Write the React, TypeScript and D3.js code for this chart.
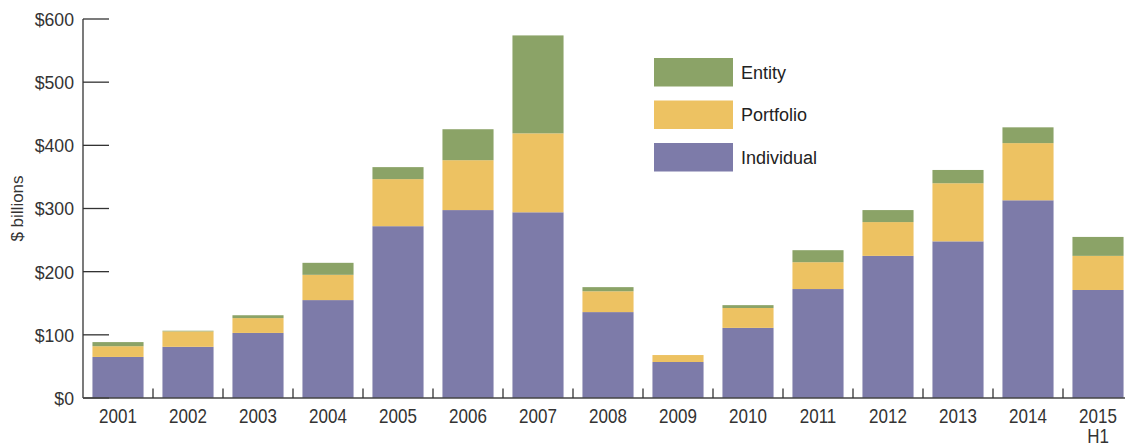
import React from "react";
import * as d3 from "d3";

const categories = ["2001","2002","2003","2004","2005","2006","2007","2008","2009","2010","2011","2012","2013","2014","2015 H1"];
const individual = [65, 81, 103, 155, 272, 297.5, 294, 136, 57, 111, 172.5, 225, 248, 313, 171];
const portfolio = [17, 24.5, 23.5, 40, 74.5, 79, 125, 33, 11, 31.5, 42.5, 53.5, 92, 90.5, 54];
const entity = [6.5, 1, 4.5, 19, 19, 49, 155, 6.5, 0, 4.5, 19, 19, 21, 25, 30];
const seriesNames = ["Individual", "Portfolio", "Entity"];
const yTicks = [0, 100, 200, 300, 400, 500, 600];
const colors: Record<string, string> = { Individual: "#7D7BA9", Portfolio: "#EDC262", Entity: "#8BA367" };

const W = 1125, H = 448;
const sans = "'Liberation Sans', Arial, Helvetica, sans-serif";

export default function App() {
  const x = d3.scaleBand<string>().domain(categories).range([83, 1133]).paddingInner(0.27).paddingOuter(0.135);
  const y = d3.scaleLinear().domain([0, 600]).range([398, 19]);
  const rows = categories.map((c, i) => ({ cat: c, Individual: individual[i], Portfolio: portfolio[i], Entity: entity[i] }));
  const stack = d3.stack<any>().keys(seriesNames)(rows);
  const step = x.step();
  const legendOrder = ["Entity", "Portfolio", "Individual"];
  return (
    <svg width={W} height={H} style={{ display: "block", position: "absolute", left: 0, top: 0 }}>
      <rect width={W} height={H} fill="#fff" />
      {stack.map((s) => (
        <g key={s.key} fill={colors[s.key]}>
          {s.map((d, i) => (
            <rect key={i} x={x(categories[i])} width={x.bandwidth()} y={y(d[1])} height={Math.max(0, y(d[0]) - y(d[1]))} />
          ))}
        </g>
      ))}
      {/* y axis */}
      <line x1={83} x2={83} y1={y(600)} y2={y(0)} stroke="#333" strokeWidth={1.3} />
      {yTicks.map((t) => (
        <g key={t}>
          <line x1={83} x2={109} y1={y(t)} y2={y(t)} stroke="#333" strokeWidth={1.3} />
          <text transform={`translate(74,${y(t)}) scale(0.93,1)`} dy="0.36em" textAnchor="end" fontFamily={sans} fontSize={19} fill="#333">{"$" + t}</text>
        </g>
      ))}
      {/* x axis */}
      <line x1={83} x2={W} y1={398} y2={398} stroke="#444" strokeWidth={1.6} />
      {categories.slice(1).map((c) => {
        const bx = (x(c) as number) - (step - x.bandwidth()) / 2;
        return <line key={c} x1={bx} x2={bx} y1={388.5} y2={398} stroke="#333" strokeWidth={1.3} />;
      })}
      {categories.map((c) => {
        const cx = (x(c) as number) + x.bandwidth() / 2;
        const parts = c.split(" ");
        return (
          <text key={c} transform={`translate(${cx},423) scale(0.85,1)`} textAnchor="middle" fontFamily={sans} fontSize={20} fill="#333">
            {parts.map((p, j) => (
              <tspan key={j} x={0} dy={j === 0 ? 0 : 20}>{p}</tspan>
            ))}
          </text>
        );
      })}
      <text transform={`translate(23,${y(300)}) rotate(-90)`} textAnchor="middle" fontFamily={sans} fontSize={17} fill="#333">$ billions</text>
      {/* legend */}
      {legendOrder.map((k, i) => (
        <g key={k} transform={`translate(654,${58 + i * 42.5})`}>
          <rect width={79} height={28.5} fill={colors[k]} />
          <text x={87} y={14.5} dy="0.36em" fontFamily={sans} fontSize={18} fill="#222">{k}</text>
        </g>
      ))}
    </svg>
  );
}
